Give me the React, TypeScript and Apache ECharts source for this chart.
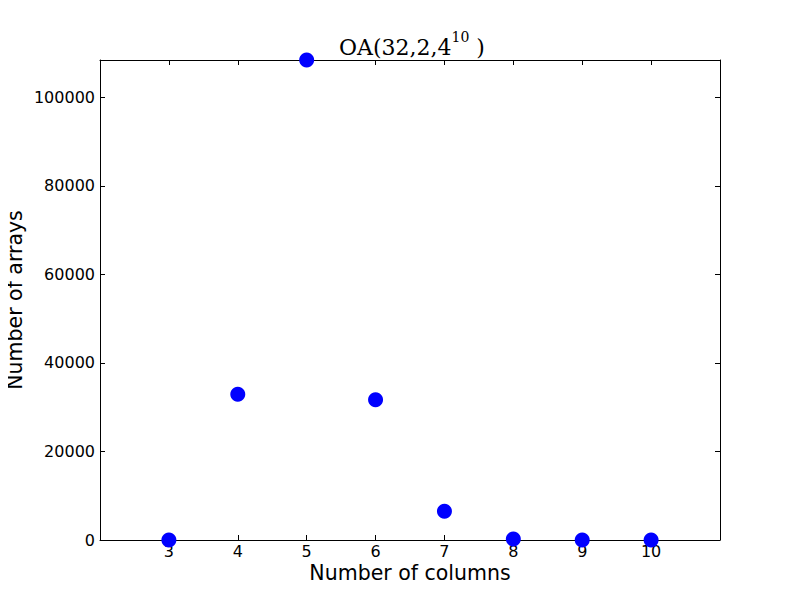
import React, { useEffect, useRef } from "react";
import * as echarts from "echarts";

const columns = [3, 4, 5, 6, 7, 8, 9, 10];
const arrays = [10, 32900, 108400, 31700, 6500, 200, 20, 5];
const yTicks = [0, 20000, 40000, 60000, 80000, 100000];
const xMin = 2;
const xMax = 11;
const yMax = 108400;

export default function App() {
  const ref = useRef<HTMLDivElement>(null);
  useEffect(() => {
    if (!ref.current) return;
    const chart = echarts.init(ref.current, null, { renderer: "svg" });
    const tickFont = { fontFamily: "DejaVu Sans", fontSize: 16, color: "#000" };
    const lineStyle = { color: "#000", width: 1 };
    chart.setOption({
      animation: false,
      backgroundColor: "#fff",
      title: {
        text: "{a|OA(32,2,4}{s|10}{a| )}",
        left: 407,
        textAlign: "center",
        top: 25,
        textStyle: {
          fontWeight: "normal",
          rich: {
            a: { fontFamily: "DejaVu Serif", fontSize: 22, fontWeight: "normal", color: "#000", verticalAlign: "bottom", lineHeight: 28 },
            s: { fontFamily: "DejaVu Serif", fontSize: 14, fontWeight: "normal", color: "#000", verticalAlign: "top", lineHeight: 28 },
          },
        },
      },
      grid: { left: 100, right: 80, top: 60, bottom: 60, containLabel: false, outerBoundsMode: "none" },
      xAxis: [
        {
          type: "value",
          min: xMin,
          max: xMax,
          interval: 1,
          name: "Number of columns",
          nameLocation: "middle",
          nameGap: 22,
          nameMoveOverlap: false,
          nameTextStyle: { fontFamily: "DejaVu Sans", fontSize: 20.5, color: "#000" },
          axisLine: { show: true, onZero: false, lineStyle },
          axisTick: { show: true, inside: true, length: 5, lineStyle },
          axisLabel: {
            ...tickFont,
            margin: 3,
            formatter: (v: number) => (columns.includes(v) ? String(v) : ""),
          },
          splitLine: { show: false },
        },
        {
          type: "value",
          position: "top",
          min: xMin,
          max: xMax,
          interval: 1,
          axisLine: { show: true, onZero: false, lineStyle },
          axisTick: { show: true, inside: true, length: 5, lineStyle },
          axisLabel: { show: false },
          splitLine: { show: false },
        },
      ],
      yAxis: [
        {
          type: "value",
          min: 0,
          max: yMax,
          interval: 20000,
          name: "Number of arrays",
          nameLocation: "middle",
          nameGap: 75,
          nameMoveOverlap: false,
          nameTextStyle: { fontFamily: "DejaVu Sans", fontSize: 20.5, color: "#000" },
          axisLine: { show: true, onZero: false, lineStyle },
          axisTick: { show: true, inside: true, length: 5, lineStyle },
          axisLabel: {
            ...tickFont,
            margin: 5,
            formatter: (v: number) => (yTicks.includes(v) ? String(v) : ""),
          },
          splitLine: { show: false },
        },
        {
          type: "value",
          position: "right",
          min: 0,
          max: yMax,
          interval: 20000,
          axisLine: { show: true, onZero: false, lineStyle },
          axisTick: { show: true, inside: true, length: 5, lineStyle },
          axisLabel: { show: false },
          splitLine: { show: false },
        },
      ],
      series: [
        {
          type: "scatter",
          xAxisIndex: 0,
          yAxisIndex: 0,
          symbol: "circle",
          symbolSize: 15,
          itemStyle: { color: "#0000ff", opacity: 1 },
          clip: false,
          z: 1,
          data: columns.map((c, i) => [c, arrays[i]]),
        },
      ],
    });
    return () => chart.dispose();
  }, []);
  return <div ref={ref} style={{ width: 800, height: 600, margin: -8 }} />;
}
